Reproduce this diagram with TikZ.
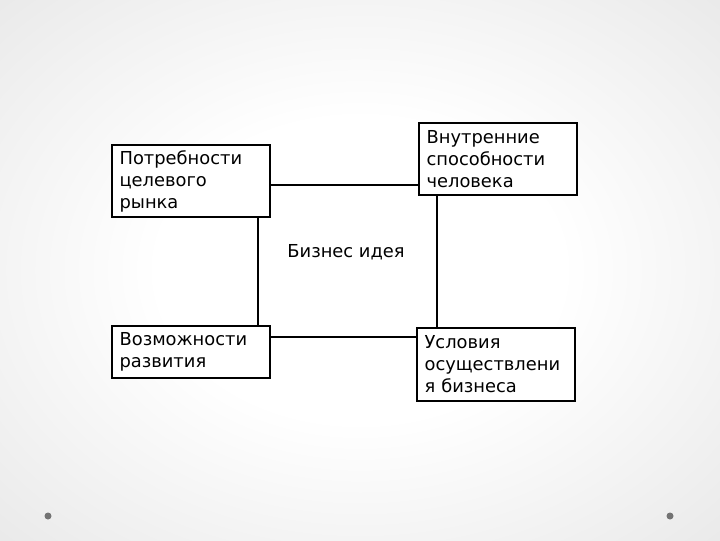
\documentclass[tikz,border=0pt]{standalone}
\usepackage{fontspec}
\setmainfont{DejaVu Sans}
\usetikzlibrary{positioning, calc}

\pgfdeclareradialshading{slidebg}{\pgfpoint{0bp}{0bp}}{color(0bp)=(white); color(14bp)=(white); color(50bp)=(black!14)}

\begin{document}
\begin{tikzpicture}[x=0.025cm, y=-0.025cm,
    block/.style={draw=black, line width=1.2pt, fill=white, anchor=north west,
      inner xsep=5.5pt, inner ysep=2pt, text width=101.5pt, align=left,
      minimum height=51.5pt, font=\fontsize{12.7}{15.6}\selectfont},
    link/.style={line width=1.2pt}]
      % slide background
      \shade[shading=slidebg] (0, 0) rectangle (720, 540);
      \useasboundingbox (0, 0) rectangle (720, 540);

      \node[block] (market) at (111, 144) {Потребности\\целевого\\рынка};
      \node[block] (skills) at (418, 122) {Внутренние\\способности\\человека};
      \node[block, minimum height=37pt] (growth) at (111, 325) {Возможности\\развития};
      \node[block, minimum height=52pt] (terms) at (416, 327) {Условия\\осуществлени\\я бизнеса};

      \node[font=\fontsize{12.7}{15.6}\selectfont] (idea) at (346, 252) {Бизнес идея};

      \coordinate (r1) at (0, 185);
      \coordinate (r2) at (0, 337);
      \coordinate (c1) at (258, 0);
      \coordinate (c2) at (437, 0);

      \draw[link] (market.east |- r1) -- (skills.west |- r1);
      \draw[link] (growth.east |- r2) -- (terms.west |- r2);
      \draw[link] (market.south -| c1) -- (growth.north -| c1);
      \draw[link] (skills.south -| c2) -- (terms.north -| c2);

      \fill[black!55] (48, 516) circle (3.5);
      \fill[black!55] (670, 516) circle (3.5);
    \end{tikzpicture}
\end{document}
